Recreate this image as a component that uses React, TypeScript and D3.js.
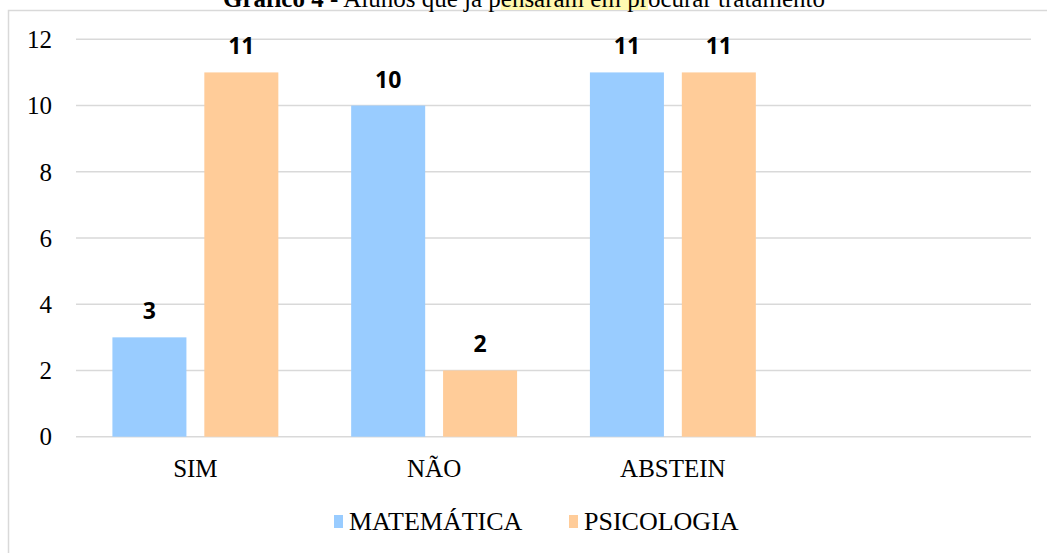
import React, { useEffect, useRef } from "react";
import * as d3 from "d3";

const categories = ["SIM", "NÃO", "ABSTEIN", ""];
const seriesNames = ["MATEMÁTICA", "PSICOLOGIA"];
const matematica = [3, 10, 11];
const psicologia = [11, 2, 11];
const yTicks = [0, 2, 4, 6, 8, 10, 12];

const colors = ["#99CCFF", "#FFCC99"];
const width = 1047;
const height = 553;

const drawChart = (el: SVGSVGElement) => {
  const svg = d3.select(el);
  svg.selectAll("*").remove();

  const serif = "'Liberation Serif', 'Times New Roman', serif";

  // chart frame
  svg
    .append("rect")
    .attr("x", 8.5)
    .attr("y", 10.5)
    .attr("width", width + 20)
    .attr("height", height + 20)
    .attr("fill", "#fff")
    .attr("stroke", "#d9d9d9")
    .attr("stroke-width", 1.5);

  // title, mostly cut off at the top (as in the source page)
  const title = svg
    .append("text")
    .attr("x", 524)
    .attr("y", 7)
    .attr("text-anchor", "middle")
    .style("font-family", serif)
    .style("font-size", "25px")
    .style("fill", "#000");
  title.append("tspan").style("font-weight", "bold").text("Gráfico 4");
  title.append("tspan").text(" - Alunos que já ");
  title.append("tspan").text("pensaram em");
  title.append("tspan").text(" procurar tratamento");

  // highlight behind "pensaram em pr"
  const tnode = title.node() as SVGTextElement;
  const full = tnode.textContent || "";
  const start = full.indexOf("pensaram em") + 1;
  try {
    const p0 = tnode.getStartPositionOfChar(start);
    const w = tnode.getSubStringLength(start, "ensaram em pr".length);
    svg
      .insert("rect", "text")
      .attr("x", p0.x)
      .attr("y", -20)
      .attr("width", w)
      .attr("height", 30)
      .attr("fill", "#FFF9B0");
  } catch (e) {
    // ignore
  }

  const plot = { left: 76, right: 1031, top: 39.3, bottom: 436.7 };

  const x = d3
    .scaleBand()
    .domain(categories.map((d, i) => String(i)))
    .range([plot.left, plot.right]);

  const y = d3.scaleLinear().domain([0, 12]).range([plot.bottom, plot.top]);

  const barW = x.bandwidth() * 0.31;
  const innerGap = x.bandwidth() * 0.075;

  const x1 = d3
    .scaleOrdinal<string, number>()
    .domain(seriesNames)
    .range([-innerGap / 2 - barW, innerGap / 2]);

  // gridlines
  svg
    .append("g")
    .selectAll("line")
    .data(yTicks)
    .join("line")
    .attr("x1", plot.left)
    .attr("x2", plot.right)
    .attr("y1", (d) => y(d))
    .attr("y2", (d) => y(d))
    .attr("stroke", "#d9d9d9")
    .attr("stroke-width", 1.5);

  // y tick labels
  svg
    .append("g")
    .selectAll("text")
    .data(yTicks)
    .join("text")
    .attr("x", 52)
    .attr("y", (d) => y(d))
    .attr("dy", "0.35em")
    .attr("text-anchor", "end")
    .style("font-family", serif)
    .style("font-size", "25px")
    .text((d) => d);

  const series = [matematica, psicologia];

  series.forEach((vals, si) => {
    const g = svg.append("g");
    g.selectAll("rect")
      .data(vals)
      .join("rect")
      .attr("x", (d, i) => x(String(i))! + x.bandwidth() / 2 + x1(seriesNames[si]))
      .attr("y", (d) => y(d))
      .attr("width", barW)
      .attr("height", (d) => y(0) - y(d))
      .attr("fill", colors[si]);

    g.selectAll("text")
      .data(vals)
      .join("text")
      .attr(
        "x",
        (d, i) => x(String(i))! + x.bandwidth() / 2 + x1(seriesNames[si]) + barW / 2,
      )
      .attr("y", (d) => y(d) - 18)
      .attr("text-anchor", "middle")
      .style("font-family", "'Open Sans', sans-serif")
      .style("font-weight", "bold")
      .style("font-size", "23px")
      .style("fill", "#000")
      .text((d) => d);
  });

  // category labels
  svg
    .append("g")
    .selectAll("text")
    .data(categories)
    .join("text")
    .attr("x", (d, i) => x(String(i))! + x.bandwidth() / 2)
    .attr("y", 476.5)
    .attr("text-anchor", "middle")
    .style("font-family", serif)
    .style("font-size", "25px")
    .text((d) => d);

  // legend
  const legend = svg.append("g");
  const legendX = [334, 569];
  seriesNames.forEach((name, i) => {
    legend
      .append("rect")
      .attr("x", legendX[i])
      .attr("y", 515)
      .attr("width", 9)
      .attr("height", 13)
      .attr("fill", colors[i]);
    legend
      .append("text")
      .attr("x", legendX[i] + 15)
      .attr("y", 530)
      .style("font-family", serif)
      .style("font-size", "26px")
      .text(name);
  });
};

export default function App() {
  const ref = useRef<SVGSVGElement>(null);

  useEffect(() => {
    document.body.style.margin = "0";
    if (ref.current) drawChart(ref.current);
  }, []);

  return (
    <svg
      ref={ref}
      width={width}
      height={height}
      style={{ position: "absolute", left: 0, top: 0, background: "#fff" }}
    />
  );
}
